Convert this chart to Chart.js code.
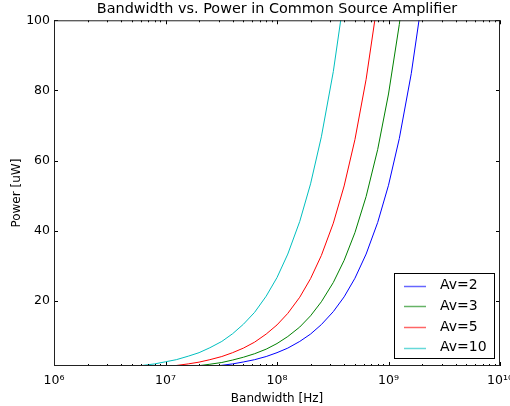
<!DOCTYPE html>
<html>
<head>
<meta charset="utf-8">
<script src="https://cdn.jsdelivr.net/npm/chart.js@4"></script>
<style>
  html, body { margin: 0; padding: 0; background: #fff; }
  #wrap { width: 510px; height: 406px; }
</style>
</head>
<body>
<div id="wrap"><canvas id="myChart" width="510" height="406"></canvas></div>
<script>
// bandwidth samples [Hz], shared by all curves
const bandwidth = [4e6, 5e6, 6e6, 8e6, 1e7, 1.25e7, 1.6e7, 2e7, 2.5e7, 3.2e7, 4e7, 5e7, 6.3e7, 8e7,
  1e8, 1.25e8, 1.6e8, 2e8, 2.5e8, 3.2e8, 4e8, 5e8, 6.3e8, 8e8, 1e9, 1.25e9, 1.6e9, 2e9];

// power [uW], null where the curve is not drawn
const powerAv2 = [null, null, null, null, null, null, null, 1.06, 1.33, 1.7, 2.1, 2.65, 3.3, 4.2,
  5.3, 6.6, 8.5, 10.6, 13.3, 17, 21.2, 26.5, 33.4, 42.4, 53, 66.3, 84.8, 106];
const powerAv3 = [null, null, null, null, null, 1.0, 1.3, 1.6, 2.0, 2.5, 3.2, 4.0, 5.0, 6.3,
  7.9, 9.9, 12.6, 15.8, 19.8, 25.3, 31.6, 39.5, 49.8, 63.2, 79, 98.8, 126, null];
const powerAv5 = [null, null, null, 1.06, 1.3, 1.65, 2.1, 2.6, 3.3, 4.2, 5.3, 6.6, 8.3, 10.6,
  13.2, 16.5, 21.1, 26.4, 33, 42.2, 52.8, 66, 83.2, 105.6, null, null, null, null];
const powerAv10 = [1.07, 1.3, 1.6, 2.1, 2.7, 3.3, 4.3, 5.3, 6.7, 8.5, 10.7, 13.4, 16.8, 21.4,
  26.7, 33.4, 42.7, 53.4, 66.8, 85.4, 106.8, null, null, null, null, null, null, null];

const labels = ["Av=2", "Av=3", "Av=5", "Av=10"];
const colors = ["#0000ff", "#008000", "#ff0000", "#00bfbf"];

const xTicks = [1e6, 1e7, 1e8, 1e9, 1e10];
const xTickLabels = ["10\u2076", "10\u2077", "10\u2078", "10\u2079", "10\u00b9\u2070"];
const yTicks = [20, 40, 60, 80, 100];

function points(ys) {
  let out = [];
  for (let i = 0; i < bandwidth.length; i++) {
    if (ys[i] != null) out.push({ x: bandwidth[i], y: ys[i] });
  }
  return out;
}

const series = [powerAv2, powerAv3, powerAv5, powerAv10];
let datasets = [];
for (let i = 0; i < series.length; i++) {
  datasets.push({
    label: labels[i],
    data: points(series[i]),
    borderColor: colors[i],
    backgroundColor: colors[i],
    borderWidth: 1,
    pointRadius: 0,
    tension: 0,
  });
}

// frame on all four sides with inward ticks, like the matplotlib axes
const frameTicks = {
  id: "frameTicks",
  afterDraw(chart) {
    const ctx = chart.ctx;
    const a = chart.chartArea;
    const x = chart.scales.x;
    const y = chart.scales.y;
    ctx.save();
    ctx.strokeStyle = "#000";
    ctx.lineWidth = 1;
    ctx.beginPath();
    let minor = [];
    for (let d = 1e6; d < 1e10; d *= 10) {
      for (let m = 2; m < 10; m++) minor.push(d * m);
    }
    minor.forEach(function (v) {
      let px = Math.round(x.getPixelForValue(v)) + 0.5;
      ctx.moveTo(px, a.bottom); ctx.lineTo(px, a.bottom - 2);
      ctx.moveTo(px, a.top); ctx.lineTo(px, a.top + 2);
    });
    xTicks.forEach(function (v) {
      let px = Math.round(x.getPixelForValue(v)) + 0.5;
      ctx.moveTo(px, a.bottom); ctx.lineTo(px, a.bottom - 4);
      ctx.moveTo(px, a.top); ctx.lineTo(px, a.top + 4);
    });
    yTicks.forEach(function (v) {
      let py = Math.round(y.getPixelForValue(v)) + 0.5;
      ctx.moveTo(a.left, py); ctx.lineTo(a.left + 4, py);
      ctx.moveTo(a.right, py); ctx.lineTo(a.right - 4, py);
    });
    ctx.stroke();
    ctx.strokeStyle = "#222";
    ctx.strokeRect(a.left + 0.5, a.top + 0.5, a.right - a.left - 1, a.bottom - a.top - 1);
    ctx.restore();
  },
};

// legend box drawn inside the lower right corner of the plot
const boxLegend = {
  id: "boxLegend",
  afterDraw(chart) {
    const ctx = chart.ctx;
    const a = chart.chartArea;
    let w = 100, h = 85;
    let left = a.right - 6 - w, top = a.bottom - 8 - h;
    ctx.save();
    ctx.fillStyle = "#fff";
    ctx.fillRect(left, top, w, h);
    ctx.strokeStyle = "#000";
    ctx.lineWidth = 1;
    ctx.strokeRect(left + 0.5, top + 0.5, w, h);
    ctx.font = "14px 'DejaVu Sans'";
    ctx.textBaseline = "middle";
    ctx.fillStyle = "#000";
    for (let i = 0; i < labels.length; i++) {
      let cy = top + 12.5 + i * 20.7;
      ctx.strokeStyle = colors[i];
      ctx.globalAlpha = 0.6;
      ctx.lineWidth = 1.5;
      ctx.beginPath();
      ctx.moveTo(left + 10, Math.round(cy) + 0.5);
      ctx.lineTo(left + 32, Math.round(cy) + 0.5);
      ctx.stroke();
      ctx.globalAlpha = 1;
      ctx.fillText(labels[i], left + 46, cy);
    }
    ctx.restore();
  },
};

Chart.defaults.font.family = "'DejaVu Sans'";
Chart.defaults.color = "#000";

new Chart("myChart", {
  type: "line",
  data: { datasets: datasets },
  plugins: [frameTicks, boxLegend],
  options: {
    responsive: false,
    animation: false,
    layout: { padding: { left: 0, right: 10, top: 0, bottom: 0 } },
    plugins: {
      legend: { display: false },
      tooltip: { enabled: false },
      title: {
        display: true,
        text: "Bandwidth vs. Power in Common Source Amplifier",
        fullSize: false,
        color: "#000",
        font: { size: 14.4, weight: "normal", lineHeight: 1.2 },
        padding: { top: 1, bottom: 2 },
      },
    },
    scales: {
      x: {
        type: "logarithmic",
        min: 1e6,
        max: 1e10,
        afterBuildTicks: function (s) {
          s.ticks = xTicks.map(function (v) { return { value: v }; });
        },
        afterFit: function (s) {
          s.height = 40;
          s.paddingLeft = 0;
          s.paddingRight = 0;
        },
        grid: { display: false, drawTicks: false },
        border: { display: false },
        ticks: {
          autoSkip: false,
          maxRotation: 0,
          padding: 7,
          font: { size: 12.5 },
          callback: function (v, i) { return xTickLabels[i]; },
        },
        title: { display: true, text: "Bandwidth [Hz]", font: { size: 12 }, padding: { top: 2, bottom: 0 } },
      },
      y: {
        type: "linear",
        min: 1.5,
        max: 100,
        afterBuildTicks: function (s) {
          s.ticks = yTicks.map(function (v) { return { value: v }; });
        },
        afterFit: function (s) {
          s.width = 54;
          s.paddingTop = 0;
          s.paddingBottom = 0;
        },
        grid: { display: false, drawTicks: false },
        border: { display: false },
        ticks: { padding: 4, font: { size: 12.5 } },
        title: { display: true, text: "Power [uW]", font: { size: 12 }, padding: { top: 10, bottom: 0 } },
      },
    },
  },
});
</script>
</body>
</html>
